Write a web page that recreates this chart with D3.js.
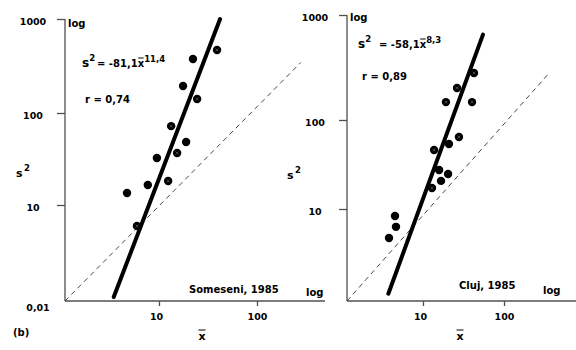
<!DOCTYPE html>
<html>
<head>
<meta charset="utf-8">
<script src="https://cdn.jsdelivr.net/npm/d3@7"></script>
<style>
  html, body { margin: 0; padding: 0; background: #fff; }
  svg { display: block; }
  text { font-family: "DejaVu Sans", sans-serif; font-weight: bold; fill: #000; }
</style>
</head>
<body>
<svg id="chart" width="576" height="350"></svg>
<script>
// ---------- data ----------
// Left panel: Someseni, 1985
const leftX    = [39.1, 22.2, 17.6, 24.5, 13.3, 18.9, 15.3, 9.5, 7.6, 12.4, 4.57, 5.83];
const leftY    = [468, 375, 194, 141, 72, 48.4, 36.7, 32.4, 16.5, 18.2, 13.5, 6.04];
const leftType = [1, 0, 0, 1, 1, 0, 1, 0, 0, 1, 0, 1];
const leftFitX = [3.3, 42];
const leftFitY = [1.1, 1000];
const leftRefX = [1, 280];
const leftRefY = [1, 345];

// Right panel: Cluj, 1985
const rightX    = [42.6, 26.3, 19.2, 40.3, 27.8, 20.9, 13.7, 15.8, 20.4, 16.7, 12.9, 4.28, 4.41, 3.57];
const rightY    = [280, 202, 148, 148, 64.4, 53.7, 46.0, 27.4, 24.7, 20.7, 17.2, 8.4, 6.4, 4.84];
const rightType = [1, 1, 1, 1, 1, 0, 1, 0, 0, 0, 1, 0, 0, 0];
const rightFitX = [3.5, 55];
const rightFitY = [1.2, 650];
const rightRefX = [1, 370];
const rightRefY = [1, 286];

// tick labels
const yTicks = [10, 100, 1000];
const yTickLabels = ["10", "100", "1000"];
const xTicks = [10, 100];
const xTickLabels = ["10", "100"];
const yBottomLabel = "0,01";

const panels = [
  {
    xs: leftX, ys: leftY, types: leftType,
    fitX: leftFitX, fitY: leftFitY, refX: leftRefX, refY: leftRefY,
    xDom: [1, 10, 100], xRange: [65, 159, 257], xEnd: 325,
    yDom: [1, 10, 100, 1000], yRange: [301, 205, 113, 19],
    eqCoef: "= -81,1", eqExp: "11,4", r: "r = 0,74",
    site: "Someseni, 1985", bottomLabel: true,
    eqPos: [82, 67, 97], rPos: [85, 103], sitePos: [189, 293], logX: [306, 296],
    logY: [68, 27], s2: [16, 177], xbar: [202, 340]
  },
  {
    xs: rightX, ys: rightY, types: rightType,
    fitX: rightFitX, fitY: rightFitY, refX: rightRefX, refY: rightRefY,
    xDom: [1, 10, 100], xRange: [347, 423, 504], xEnd: 576,
    yDom: [1, 10, 100, 1000], yRange: [301, 209, 120, 15],
    eqCoef: "= -58,1", eqExp: "8,3", r: "r = 0,89",
    site: "Cluj, 1985", bottomLabel: false,
    eqPos: [358, 48, 379], rPos: [362, 80], sitePos: [459, 289], logX: [543, 294],
    logY: [350, 21], s2: [287, 179], xbar: [460, 340]
  }
];

const svg = d3.select("#chart");
const axisColor = "#505050";

panels.forEach(p => {
  const x = d3.scaleLog().domain(p.xDom).range(p.xRange);
  const y = d3.scaleLog().domain(p.yDom).range(p.yRange);
  const x0 = x(1), y0 = y(1);
  const g = svg.append("g");

  // y axis
  const yAxis = d3.axisLeft(y).tickValues(yTicks).tickSize(8)
    .tickFormat((d, i) => yTickLabels[i]);
  const ya = g.append("g").attr("transform", `translate(${x0},0)`).call(yAxis);
  ya.select(".domain").remove();
  ya.selectAll(".tick line").attr("stroke", axisColor).attr("stroke-width", 1.3);
  ya.selectAll(".tick text")
    .attr("x", -32).attr("dy", null).attr("y", 5)
    .attr("text-anchor", "middle")
    .style("font-size", "9.5px").style("font-family", "DejaVu Sans").style("font-weight", "bold");
  g.append("line")
    .attr("x1", x0).attr("x2", x0)
    .attr("y1", y(1000)).attr("y2", y0)
    .attr("stroke", axisColor).attr("stroke-width", 1.3);

  // x axis
  const xAxis = d3.axisBottom(x).tickValues(xTicks).tickSize(5)
    .tickFormat((d, i) => xTickLabels[i]);
  const xa = g.append("g").attr("transform", `translate(0,${y0})`).call(xAxis);
  xa.select(".domain").remove();
  xa.selectAll(".tick line").attr("stroke", axisColor).attr("stroke-width", 1.3);
  xa.selectAll(".tick text")
    .attr("y", 18.5).attr("dy", null).attr("dx", (d, i) => i === 0 ? -3 : 0)
    .style("font-size", "9.5px").style("font-family", "DejaVu Sans").style("font-weight", "bold");
  g.append("line")
    .attr("x1", x0).attr("x2", p.xEnd)
    .attr("y1", y0).attr("y2", y0)
    .attr("stroke", axisColor).attr("stroke-width", 1.3);

  if (p.bottomLabel) {
    g.append("text").attr("x", x0 - 27).attr("y", y0 + 10)
      .attr("text-anchor", "middle").style("font-size", "9.5px").text(yBottomLabel);
  }

  // reference dashed line
  g.append("line")
    .attr("x1", x(p.refX[0])).attr("y1", y(p.refY[0]))
    .attr("x2", x(p.refX[1])).attr("y2", y(p.refY[1]))
    .attr("stroke", "#333").attr("stroke-width", 0.9)
    .attr("stroke-dasharray", "5,4");

  // regression line
  g.append("line")
    .attr("x1", x(p.fitX[0])).attr("y1", y(p.fitY[0]))
    .attr("x2", x(p.fitX[1])).attr("y2", y(p.fitY[1]))
    .attr("stroke", "#000").attr("stroke-width", 4)
    .attr("stroke-linecap", "round");

  // points
  const pts = p.xs.map((v, i) => ({ x: v, y: p.ys[i], t: p.types[i] }));
  const pg = g.selectAll("g.pt").data(pts).enter().append("g")
    .attr("class", "pt")
    .attr("transform", d => `translate(${x(d.x)},${y(d.y)})`);
  pg.append("circle").attr("r", 4.2).attr("fill", "#000");
  pg.filter(d => d.t === 1).append("path")
    .attr("d", "M-1.4,-1.4L1.4,1.4M-1.4,1.4L1.4,-1.4")
    .attr("stroke", "#fff").attr("stroke-width", 0.5).attr("opacity", 0.55);

  // equation
  const eq = g.append("text").attr("x", p.eqPos[0]).attr("y", p.eqPos[1]);
  eq.append("tspan").style("font-size", "12px").text("s");
  eq.append("tspan").style("font-size", "8.5px").attr("dy", -6).text("2");
  const coef = eq.append("tspan").style("font-size", "10px")
    .attr("x", p.eqPos[2]).attr("y", p.eqPos[1]).text(p.eqCoef);
  const xv = eq.append("tspan").style("font-size", "10px").text("x");
  eq.append("tspan").style("font-size", "8.5px").attr("dy", -5).text(p.eqExp);
  // overline above the x in equation
  const coefLen = coef.node().getComputedTextLength();
  const xLen = xv.node().getComputedTextLength();
  g.append("line")
    .attr("x1", p.eqPos[2] + coefLen + 0.5).attr("x2", p.eqPos[2] + coefLen + xLen - 0.5)
    .attr("y1", p.eqPos[1] - 9).attr("y2", p.eqPos[1] - 9)
    .attr("stroke", "#000").attr("stroke-width", 1);

  g.append("text").attr("x", p.rPos[0]).attr("y", p.rPos[1])
    .style("font-size", "10px").text(p.r);

  g.append("text").attr("x", p.sitePos[0]).attr("y", p.sitePos[1])
    .style("font-size", "10px").text(p.site);

  // log labels
  g.append("text").attr("x", p.logY[0]).attr("y", p.logY[1])
    .style("font-size", "10px").text("log");
  g.append("text").attr("x", p.logX[0]).attr("y", p.logX[1])
    .style("font-size", "10px").text("log");

  // s^2 axis label
  const s2 = g.append("text").attr("x", p.s2[0]).attr("y", p.s2[1]);
  s2.append("tspan").style("font-size", "11px").text("s");
  s2.append("tspan").style("font-size", "8.5px").attr("dy", -6).attr("dx", 1.5).text("2");

  // x-bar label
  g.append("text").attr("x", p.xbar[0]).attr("y", p.xbar[1])
    .attr("text-anchor", "middle").style("font-size", "11px").text("x");
  g.append("line")
    .attr("x1", p.xbar[0] - 3.5).attr("x2", p.xbar[0] + 3.5)
    .attr("y1", p.xbar[1] - 10).attr("y2", p.xbar[1] - 10)
    .attr("stroke", "#000").attr("stroke-width", 1);
});

svg.append("text").attr("x", 13).attr("y", 336)
  .style("font-size", "10px").text("(b)");
</script>
</body>
</html>
